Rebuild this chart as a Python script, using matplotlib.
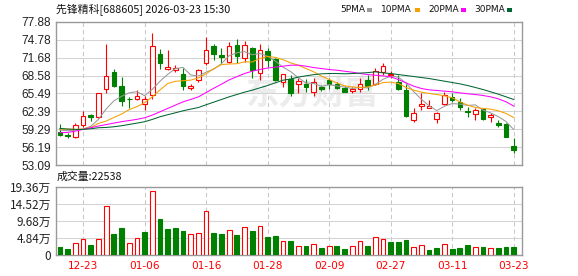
import matplotlib
matplotlib.use("Agg")
import matplotlib.pyplot as plt
from matplotlib.patches import Rectangle
import numpy as np

plt.rcParams['font.family'] = ['Noto Sans CJK SC', 'DejaVu Sans']

# trading days shown (MM-DD)
dates = ['12-18', '12-19', '12-22', '12-23', '12-24', '12-25', '12-26', '12-29', '12-30', '12-31',
         '01-05', '01-06', '01-07', '01-08', '01-09', '01-12', '01-13', '01-14', '01-15', '01-16',
         '01-19', '01-20', '01-21', '01-22', '01-23', '01-26', '01-27', '01-28', '01-29', '01-30',
         '02-02', '02-03', '02-04', '02-05', '02-06', '02-09', '02-10', '02-11', '02-12', '02-13',
         '02-24', '02-25', '02-26', '02-27', '03-02', '03-03', '03-04', '03-05', '03-06', '03-09',
         '03-10', '03-11', '03-12', '03-13', '03-16', '03-17', '03-18', '03-19', '03-20', '03-23']

opens = [58.8, 58.35, 57.95, 60.0, 61.8, 61.35, 66.2, 69.2, 66.8, 64.6,
         64.5, 63.6, 65.2, 72.35, 69.7, 69.5, 68.8, 66.5, 67.8, 70.7,
         73.8, 72.1, 71.0, 73.85, 71.65, 73.3, 69.05, 72.8, 71.55, 67.4,
         67.95, 67.2, 67.2, 65.75, 66.65, 67.8, 67.1, 66.5, 65.95, 66.25,
         67.8, 67.1, 69.25, 68.7, 67.5, 66.05, 60.9, 63.35, 63.05, 60.99,
         63.58, 64.91, 63.93, 62.43, 61.85, 62.72, 61.33, 60.41, 60.18, 56.38]
highs = [60.15, 58.65, 60.35, 62.45, 61.9, 65.65, 74.0, 69.7, 68.4, 64.8,
         66.05, 65.05, 75.9, 73.15, 73.0, 70.4, 69.9, 67.2, 69.7, 75.3,
         74.15, 73.45, 74.45, 75.0, 74.55, 73.5, 74.0, 73.4, 71.7, 68.95,
         68.65, 68.1, 68.0, 68.25, 66.95, 68.1, 67.5, 66.75, 66.65, 68.25,
         68.65, 69.95, 70.85, 69.4, 68.65, 67.2, 63.05, 65.5, 64.35, 62.3,
         65.77, 65.49, 64.62, 63.18, 62.89, 62.9, 62.03, 60.87, 60.3, 57.82]
lows = [58.2, 57.8, 57.7, 59.7, 60.8, 61.3, 65.6, 66.6, 63.3, 63.0,
        64.3, 62.7, 64.6, 69.7, 69.6, 69.25, 66.05, 66.05, 67.5, 70.4,
        71.25, 70.7, 70.7, 70.7, 70.95, 68.2, 67.8, 70.0, 67.6, 66.65,
        65.05, 65.6, 65.75, 65.05, 65.95, 66.35, 66.2, 65.75, 65.5, 65.75,
        66.05, 66.95, 68.65, 68.1, 66.05, 61.45, 60.6, 62.6, 63.05, 60.4,
        63.47, 64.04, 62.6, 61.45, 60.87, 60.87, 60.58, 59.72, 57.87, 55.22]
closes = [58.25, 58.05, 59.95, 61.5, 61.45, 65.5, 68.5, 66.8, 64.2, 64.45,
          65.05, 64.6, 73.7, 70.85, 70.1, 69.95, 66.7, 66.75, 69.5, 72.95,
          72.25, 71.85, 73.7, 72.0, 73.95, 69.5, 72.95, 71.25, 67.8, 68.8,
          65.6, 67.6, 66.65, 67.5, 66.2, 67.1, 66.5, 65.75, 66.25, 67.1,
          66.75, 69.4, 70.2, 68.95, 66.25, 61.55, 62.05, 63.6, 63.3, 62.14,
          65.31, 64.33, 63.18, 62.2, 62.6, 60.99, 61.74, 60.01, 57.99, 55.68]

# volume in 万
volumes = [2.28, 1.61, 3.51, 4.65, 2.75, 4.65, 13.86, 5.88, 7.78, 3.51,
           4.93, 6.45, 18.13, 10.34, 7.35, 7.65, 6.8, 5.85, 6.4, 12.48,
           6.15, 5.88, 7.21, 5.6, 8.07, 6.74, 8.35, 5.03, 5.31, 3.95,
           3.95, 2.7, 2.56, 3.04, 1.99, 2.56, 2.56, 1.71, 2.56, 3.99,
           2.56, 5.03, 4.46, 3.70, 3.70, 4.27, 2.18, 2.75, 1.42, 1.99,
           3.04, 1.71, 1.99, 2.85, 2.18, 2.28, 1.90, 1.99, 2.28, 2.2538]

ma5 = [59.14, 59.03, 59.14, 59.32, 59.8, 61.0, 62.8, 64.2, 65.0, 65.6,
       65.8, 65.1, 66.2, 67.6, 68.8, 69.8, 70.0, 68.7, 68.5, 69.2,
       69.7, 70.66, 72.05, 72.54, 72.74, 72.2, 72.43, 71.94, 71.1, 70.06,
       69.28, 68.21, 67.29, 67.23, 66.71, 67.01, 66.79, 66.61, 66.36, 66.55,
       66.48, 67.06, 67.95, 68.49, 68.32, 67.28, 65.8, 64.47, 63.34, 62.52,
       63.28, 63.74, 63.64, 63.42, 63.51, 62.61, 62.12, 61.47, 60.63, 59.24]
ma10 = [59.32, 59.32, 59.26, 59.32, 59.6, 60.3, 60.7, 61.33, 61.91, 62.7,
        63.2, 63.9, 64.9, 66.1, 67.2, 67.6, 67.7, 67.8, 68.2, 68.9,
        69.8, 70.5, 70.6, 70.65, 70.97, 70.95, 71.54, 71.9, 71.75, 71.35,
        70.79, 70.39, 69.81, 69.24, 68.49, 67.91, 67.33, 66.81, 66.64, 66.52,
        66.64, 66.93, 67.39, 67.45, 67.22, 66.53, 66.06, 65.72, 65.49, 65.31,
        65.08, 64.74, 64.05, 63.47, 63.07, 62.89, 62.78, 62.49, 62.03, 61.33]
ma20 = [58.68, 58.74, 58.97, 59.26, 59.55, 59.85, 60.1, 60.35, 60.6, 60.8,
        61.0, 61.28, 61.74, 62.31, 62.89, 63.47, 64.04, 64.45, 64.9, 65.65,
        66.4, 67.1, 67.85, 68.4, 68.95, 69.35, 69.65, 69.9, 70.05, 70.22,
        70.39, 70.39, 70.22, 69.98, 69.81, 69.64, 69.52, 69.35, 69.18, 68.95,
        68.77, 68.66, 68.54, 68.37, 67.91, 67.33, 66.76, 66.35, 66.12, 66.01,
        65.89, 65.78, 65.6, 65.43, 65.31, 65.14, 64.91, 64.56, 64.05, 63.30]
ma30 = [59.43, 59.32, 59.26, 59.26, 59.37, 59.55, 59.6, 59.72, 59.89, 60.12,
        60.35, 60.59, 60.99, 61.45, 61.8, 62.14, 62.49, 62.78, 63.06, 63.53,
        63.99, 64.45, 64.91, 65.31, 65.72, 66.06, 66.47, 66.87, 67.33, 67.79,
        68.0, 68.33, 68.55, 68.75, 68.9, 68.95, 68.95, 68.9, 68.95, 69.02,
        69.1, 69.24, 69.06, 68.95, 68.77, 68.6, 68.43, 68.25, 68.08, 67.85,
        67.62, 67.39, 67.16, 66.87, 66.53, 66.18, 65.78, 65.37, 64.91, 64.45]

price_labels = ['53.09', '56.19', '59.29', '62.39', '65.49', '68.58', '71.68', '74.78', '77.88']
vol_labels = ['0', '4.84万', '9.68万', '14.52万', '19.36万']
vol_ticks = [0, 4.84, 9.68, 14.52, 19.36]

RED = '#ff0000'
GREEN = '#008000'
GRID = '#d3d3d3'
FRAME = '#999999'
ma_colors = ['#999999', '#f5a000', '#ff00ff', '#006633']

W, H = 578, 276
fig = plt.figure(figsize=(W / 100, H / 100), dpi=100)
ax = fig.add_axes([56 / W, 1 - 165 / H, 466 / W, 143 / H])
axv = fig.add_axes([56 / W, 1 - 255 / H, 466 / W, 68 / H])

x = np.arange(len(closes))
o, h, l, c = map(np.array, (opens, highs, lows, closes))
up = c >= o
top = np.maximum(o, c)
bot = np.minimum(o, c)
body = np.maximum(top - bot, 0.06)
cols = np.where(up, RED, GREEN)
lw = 0.8

tick_pos = list(range(3, len(dates), 8))
for a in (ax, axv):
    for t in tick_pos:
        a.axvline(t, color='#c8c8c8', lw=0.75, ls=(0, (4, 3)), zorder=0)
    for s in a.spines.values():
        s.set_color(FRAME)
        s.set_linewidth(1.0)
    a.set_xlim(-0.52, 60.08)
    a.tick_params(length=0)

# watermark
ax.text(0.55, 0.49, '东方财富', transform=ax.transAxes, fontsize=24, fontweight='bold',
        color='#ececec', ha='center', va='center', zorder=0)

# price panel
ax.set_ylim(53.09, 77.88)
pt = [float(v) for v in price_labels]
ax.set_yticks(pt)
ax.set_yticklabels(price_labels, family=['Liberation Sans', 'DejaVu Sans'], fontsize=8.5, color='#222222')
for v in pt[1:-1]:
    ax.axhline(v, color=GRID, lw=0.75, zorder=0)
ax.set_xticks([])

ax.vlines(x, top, h, colors=cols, lw=lw, zorder=2)
ax.vlines(x, l, bot, colors=cols, lw=lw, zorder=2)
ax.bar(x, body, bottom=bot, width=0.6, facecolor=np.where(up, 'white', GREEN),
       edgecolor=cols, linewidth=lw, zorder=3)

for ma, col in zip((ma5, ma10, ma20, ma30), ma_colors):
    ax.plot(x, ma, color=col, lw=0.75, zorder=4)

# volume panel
axv.set_ylim(0, 19.36)
axv.set_yticks(vol_ticks)
axv.set_yticklabels(vol_labels, fontsize=8.5, color='#222222')
for v in vol_ticks[1:-1]:
    axv.axhline(v, color=GRID, lw=0.75, zorder=0)
prev = np.concatenate(([o[0]], c[:-1]))
vup = c > prev
axv.bar(x, volumes, width=0.62, facecolor=np.where(vup, 'white', GREEN),
        edgecolor=np.where(vup, RED, GREEN), linewidth=lw, zorder=3)
axv.set_xticks(tick_pos)
axv.set_xticklabels([dates[i] for i in tick_pos], color=RED, fontsize=7.6,
                    family=['DejaVu Sans'])
axv.tick_params(axis='x', pad=4)

# header texts
fig.text(56 / W, 1 - 10 / H, '先锋精科[688605] 2026-03-23 15:30', fontsize=7.8,
         va='center', ha='left', color='#111111')
fig.text(57 / W, 1 - 177 / H, '成交量:22538', fontsize=7.8, va='center', ha='left', color='#111111')

leg = [('5PMA', 340), ('10PMA', 381), ('20PMA', 428), ('30PMA', 474)]
for (name, px), col in zip(leg, ma_colors):
    fig.text(px / W, 1 - 10 / H, name, fontsize=6.5, va='center', ha='left',
             family=['DejaVu Sans'], color='#111111')
sq = [367, 415, 461, 507]
for px, col in zip(sq, ma_colors):
    fig.patches.append(Rectangle((px / W, 1 - 12 / H), 5 / W, 4 / H, transform=fig.transFigure,
                                 facecolor=col, edgecolor='none'))

fig.savefig('out.png', dpi=100)
